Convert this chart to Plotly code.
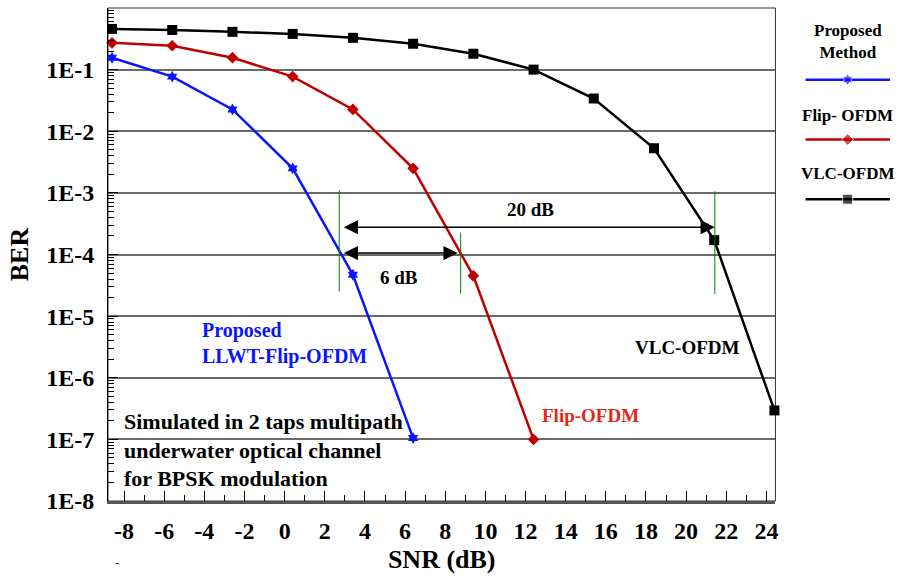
import numpy as np
import plotly.graph_objects as go

# ---------------- data ----------------
snr_proposed = [-8.6, -5.6, -2.6, 0.4, 3.4, 6.4]
ber_proposed = [0.156, 0.077, 0.0226, 0.0025, 4.7e-5, 1.05e-7]

snr_flip = [-8.6, -5.6, -2.6, 0.4, 3.4, 6.4, 9.4, 12.4]
ber_flip = [0.272, 0.244, 0.156, 0.077, 0.0226, 0.0025, 4.5e-5, 1.0e-7]

snr_vlc = [-8.6, -5.6, -2.6, 0.4, 3.4, 6.4, 9.4, 12.4, 15.4, 18.4, 21.4, 24.4]
ber_vlc = [0.458, 0.44, 0.41, 0.38, 0.328, 0.263, 0.181, 0.1, 0.034, 0.0053, 1.71e-4, 2.95e-7]

y_tick_vals = [1e-8, 1e-7, 1e-6, 1e-5, 1e-4, 1e-3, 1e-2, 1e-1]
y_tick_text = ["1E-8", "1E-7", "1E-6", "1E-5", "1E-4", "1E-3", "1E-2", "1E-1"]
x_tick_vals = [-8, -6, -4, -2, 0, 2, 4, 6, 8, 10, 12, 14, 16, 18, 20, 22, 24]
x_tick_text = ["-8", "-6", "-4", "-2", "0", "2", "4", "6", "8", "10", "12", "14",
               "16", "18", "20", "22", "24"]

# green marker lines (x, ber_top, ber_bottom)
green_x = [2.72, 8.77, 21.43]
green_top = [1.1e-3, 2.26e-4, 1.07e-3]
green_bottom = [2.5e-5, 2.3e-5, 2.3e-5]

legend_names = ["Proposed<br>Method", "Flip- OFDM", "VLC-OFDM"]

# ---------------- styles ----------------
FONT = "Liberation Serif"
BLUE = "#0a14ff"
RED = "#c00000"
BLACK = "#000000"

fig = go.Figure()

fig.add_trace(go.Scatter(x=snr_vlc, y=ber_vlc, mode="lines+markers",
                         line=dict(color=BLACK, width=2.5),
                         marker=dict(symbol="square", size=10, color=BLACK),
                         cliponaxis=False, showlegend=False))
fig.add_trace(go.Scatter(x=snr_flip, y=ber_flip, mode="lines+markers",
                         line=dict(color=RED, width=2.5),
                         marker=dict(symbol="diamond", size=9, color=RED),
                         cliponaxis=False, showlegend=False))
fig.add_trace(go.Scatter(x=snr_proposed, y=ber_proposed, mode="lines+markers",
                         line=dict(color=BLUE, width=2.5),
                         marker=dict(symbol="hexagram", size=9, color=BLUE),
                         cliponaxis=False, showlegend=False))

for gx, gt, gb in zip(green_x, green_top, green_bottom):
    fig.add_trace(go.Scatter(x=[gx, gx], y=[gt, gb], mode="lines",
                             line=dict(color="#008000", width=1),
                             showlegend=False, hoverinfo="skip"))

# custom legend drawn on a hidden axis pair on the right
legend_rows = [80, 140, 200]
legend_colors = [BLUE, RED, BLACK]
legend_symbols = ["hexagram", "diamond", "square"]
legend_sizes = [9, 9, 10]
legend_text_y = [42, 116, 174]
for row, col, sym, sz in zip(legend_rows, legend_colors, legend_symbols, legend_sizes):
    fig.add_trace(go.Scatter(x=[0, 0.5, 1], y=[row, row, row], mode="lines+markers",
                             line=dict(color=col, width=2.5),
                             marker=dict(symbol=sym, size=[0, sz, 0], color=col),
                             xaxis="x2", yaxis="y2", cliponaxis=False,
                             showlegend=False, hoverinfo="skip"))

annotations = []
for name, ty in zip(legend_names, legend_text_y):
    annotations.append(dict(x=0.5, y=ty, xref="x2", yref="y2", text=name,
                            showarrow=False, align="center",
                            font=dict(family=FONT, size=17, color="black", weight="bold")))

def ann(x, y, text, color="black", size=19, xanchor="center", align="center"):
    annotations.append(dict(x=x, y=np.log10(y), xref="x", yref="y", text=text,
                            showarrow=False, xanchor=xanchor, align=align,
                            font=dict(family=FONT, size=size, color=color, weight="bold")))

ann(12.25, 10 ** -3.265, "20 dB")
ann(5.7, 10 ** -4.38, "6 dB")
ann(-4.23, 10 ** -5.45, "Proposed<br>LLWT-Flip-OFDM", color=BLUE, size=20,
    xanchor="left", align="left")
ann(20.09, 10 ** -5.51, "VLC-OFDM")
ann(12.74, 10 ** -6.61, "Flip-OFDM", color="#e0281a", xanchor="left")
ann(-8.1, 10 ** -7.18, "Simulated in 2 taps multipath<br>underwater optical channel<br>for BPSK modulation",
    size=22, xanchor="left", align="left")

# double-headed arrows
for x_tail, x_head, yv in [(2.87, 21.43, 10 ** -3.556), (2.87, 8.62, 10 ** -3.976)]:
    annotations.append(dict(x=x_head, y=np.log10(yv), ax=x_tail, ay=np.log10(yv),
                            xref="x", yref="y", axref="x", ayref="y", text="",
                            showarrow=True, arrowhead=2, arrowside="end+start",
                            arrowsize=1.9, arrowwidth=1.5, arrowcolor="black"))

# stray dash below the axis
annotations.append(dict(x=0.0064, y=-0.145, xref="paper", yref="paper", text="-",
                        showarrow=False, font=dict(family=FONT, size=14, color="#444")))

minor_y = [k * 10.0 ** e for e in range(-8, 0) for k in range(2, 10)]

fig.update_layout(
    width=899, height=576,
    margin=dict(l=108, r=6, t=8, b=73),
    paper_bgcolor="white", plot_bgcolor="white",
    font=dict(family=FONT, color="black"),
    showlegend=False,
    annotations=annotations,
    xaxis=dict(domain=[0, 670 / 785], range=[-8.8, 24.45],
               tickmode="array", tickvals=x_tick_vals, ticktext=x_tick_text,
               ticks="inside", ticklen=10, tickwidth=1, tickcolor="black",
               minor=dict(dtick=1, ticks="inside", ticklen=6, tickcolor="black", showgrid=False),
               showgrid=False, zeroline=False,
               showline=True, linecolor="#555", linewidth=3,
               tickfont=dict(family=FONT, size=24, color="black", weight="bold"),
               ticklabelstandoff=6,
               title=dict(text="SNR (dB)", standoff=8,
                          font=dict(family=FONT, size=26, color="black", weight="bold"))),
    yaxis=dict(type="log", range=[-8, 0],
               tickmode="array", tickvals=y_tick_vals, ticktext=y_tick_text,
               ticks="inside", ticklen=10, tickwidth=1, tickcolor="black",
               minor=dict(tickmode="array", tickvals=minor_y, ticks="inside", ticklen=6,
                          tickcolor="black", showgrid=False),
               showgrid=True, gridcolor="#6a6a6a", gridwidth=1.5, zeroline=False,
               showline=True, linecolor="black", linewidth=1,
               tickfont=dict(family=FONT, size=24, color="black", weight="bold"),
               ticklabelstandoff=8,
               title=dict(text="BER", standoff=10,
                          font=dict(family=FONT, size=26, color="black", weight="bold"))),
    xaxis2=dict(domain=[(808 - 108) / 785, 1], range=[0, 1], visible=False,
                anchor="y2", fixedrange=True),
    yaxis2=dict(domain=[0, 1], range=[503, 8], visible=False, anchor="x2",
                fixedrange=True),
    shapes=[dict(type="rect", xref="x domain", yref="y domain", x0=0, x1=1, y0=0, y1=1,
                 line=dict(color="#333", width=1), layer="below")],
)

fig.write_html("out.html")
